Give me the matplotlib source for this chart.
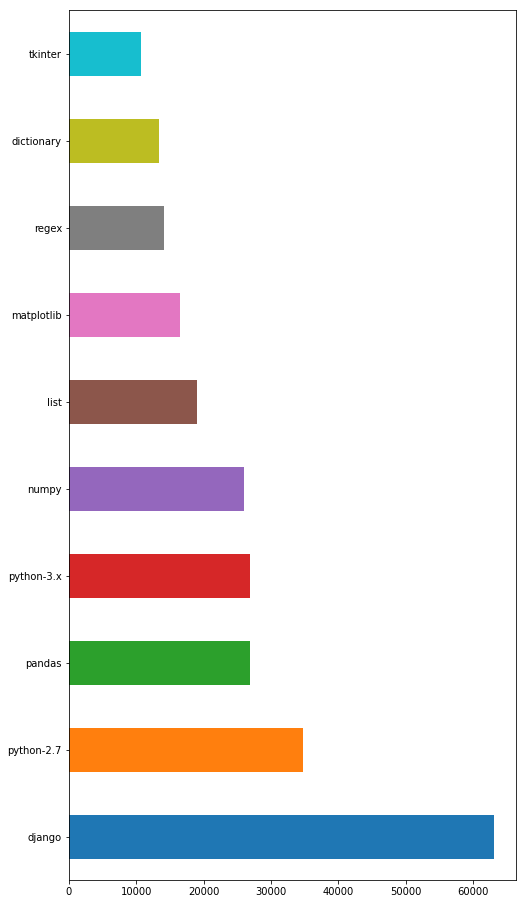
import matplotlib
matplotlib.use('Agg')
import matplotlib.pyplot as plt

tags = ['django', 'python-2.7', 'pandas', 'python-3.x', 'numpy',
        'list', 'matplotlib', 'regex', 'dictionary', 'tkinter']
counts = [63150, 34770, 26900, 26890, 26000, 19020, 16490, 14120, 13370, 10700]
colors = ['#1f77b4', '#ff7f0e', '#2ca02c', '#d62728', '#9467bd',
          '#8c564b', '#e377c2', '#7f7f7f', '#bcbd22', '#17becf']

fig = plt.figure(figsize=(525 / 72, 904 / 72), dpi=72)
ax = fig.add_axes([69 / 525, 23.7 / 904, 446.7 / 525, 870 / 904])

pos = range(len(tags))
ax.barh(pos, counts, height=0.5, color=colors)
ax.set_yticks(pos)
ax.set_yticklabels(tags)
ax.set_ylim(-0.5, len(tags) - 0.5)
ax.set_xlim(0, max(counts) * 1.05)

fig.savefig('out.png', dpi=72)
